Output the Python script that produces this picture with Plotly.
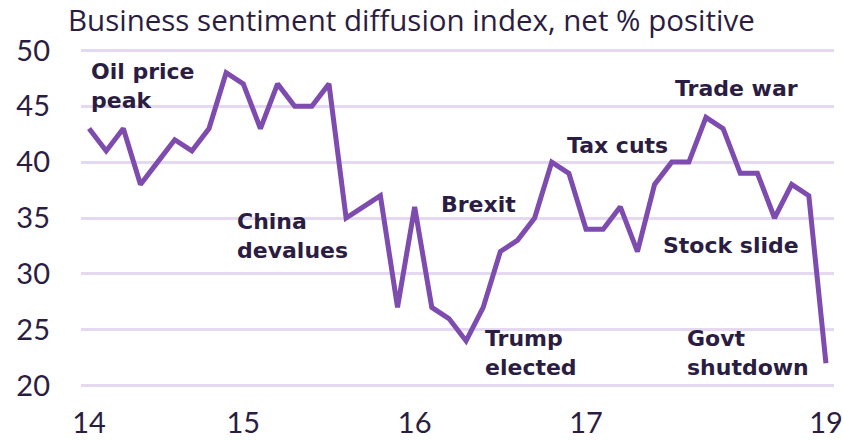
import plotly.graph_objects as go

# Data (one point per survey, equally spaced)
values = [43, 41, 43, 38, 40, 42, 41, 43, 48, 47, 43, 47, 45, 45, 47, 35,
          36, 37, 27, 36, 27, 26, 24, 27, 32, 33, 35, 40, 39, 34, 34, 36,
          32, 38, 40, 40, 44, 43, 39, 39, 35, 38, 37, 22]
x_idx = list(range(len(values)))

tick_pos = [0, 9, 19, 29, 43]
tick_labels = ["14", "15", "16", "17", "19"]

y_ticks = [20, 25, 30, 35, 40, 45, 50]

events = ["Oil price<br>peak", "China<br>devalues", "Brexit", "Trump<br>elected",
          "Tax cuts", "Trade war", "Stock slide", "Govt<br>shutdown"]
event_x = [0.0, 8.5, 20.4, 23.0, 27.8, 34.1, 33.4, 34.8]
event_y = [46.8, 33.4, 36.2, 22.9, 41.5, 46.6, 32.5, 22.9]

LINE = "#7e4bae"
GRID = "#e4d9f0"
TEXT = "#2b1d42"

fig = go.Figure()
fig.add_trace(go.Scatter(x=x_idx, y=values, mode="lines",
                         line=dict(color=LINE, width=5, shape="linear"),
                         hoverinfo="skip"))

for t, ex, ey in zip(events, event_x, event_y):
    fig.add_annotation(x=ex, y=ey, xref="x", yref="y", text=t, showarrow=False,
                       xanchor="left", yanchor="middle", align="left",
                       font=dict(family="DejaVu Sans", size=22, color=TEXT,
                                 weight="bold"))

fig.update_layout(
    width=843, height=440,
    margin=dict(l=81, r=9, t=47, b=51, autoexpand=False),
    paper_bgcolor="white", plot_bgcolor="white",
    showlegend=False,
    title=dict(text="Business sentiment diffusion index, net % positive",
               x=68 / 843, xanchor="left", xref="container",
               y=1 - 21 / 440, yanchor="middle", yref="container",
               font=dict(family="Open Sans", size=29.5, color=TEXT)),
    xaxis=dict(range=[-0.47, 43.47], tickmode="array", tickvals=tick_pos,
               ticktext=tick_labels, showgrid=False, zeroline=False,
               showline=False, ticks="", ticklabelstandoff=14,
               automargin=False,
               tickfont=dict(family="Lato", size=29, color=TEXT)),
    yaxis=dict(range=[19.7, 50.3], tickmode="array", tickvals=y_ticks,
               showgrid=True, gridcolor=GRID, gridwidth=2.5, zeroline=False,
               showline=False, ticks="", ticklabelstandoff=30,
               automargin=False,
               tickfont=dict(family="Lato", size=29, color=TEXT)),
)

fig.write_html("out.html",
               config={"displayModeBar": False},
               post_script="document.body.style.margin='0';"
                           "document.body.style.overflow='hidden';")
